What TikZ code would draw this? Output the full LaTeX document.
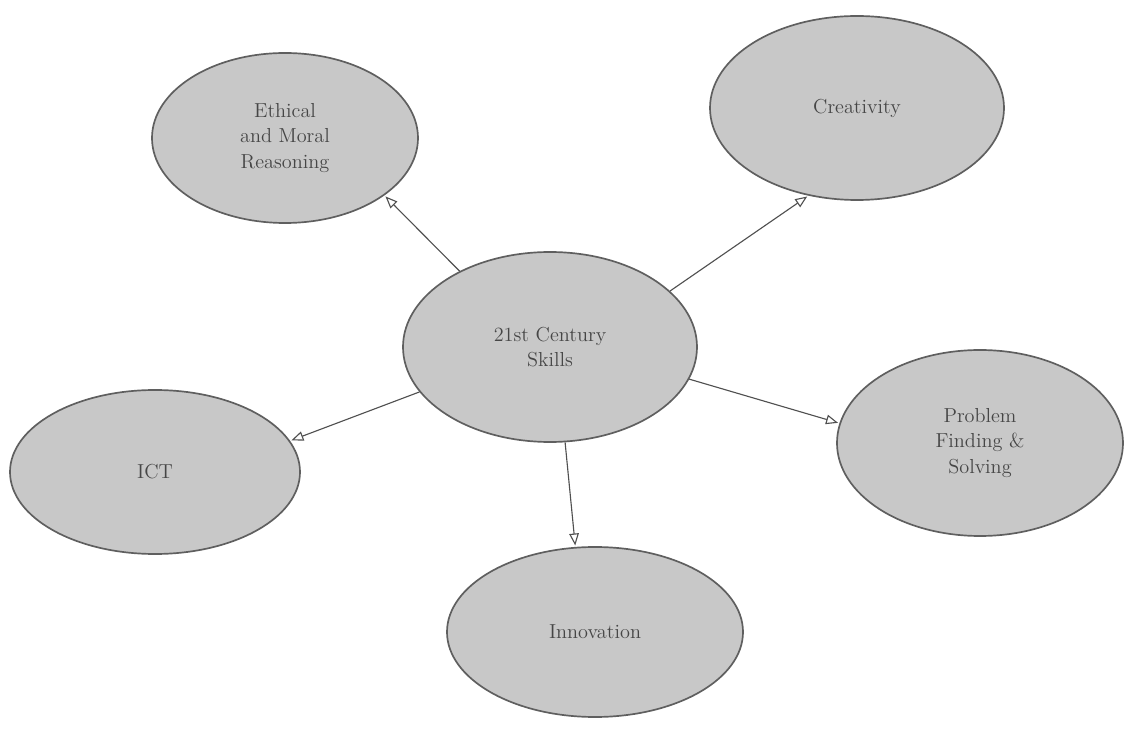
\documentclass[tikz,border=0pt]{standalone}
\usepackage{xcolor}
\usepackage{tikz}
\usetikzlibrary{shapes.geometric, arrows.meta, positioning}
\definecolor{bubblefill}{RGB}{200, 200, 200}
\definecolor{bubbleborder}{RGB}{95, 95, 95}
\definecolor{inktext}{RGB}{70, 70, 70}
\definecolor{inkline}{RGB}{80, 80, 80}
\tikzset{
  bubble/.style={
    ellipse, draw=bubbleborder, fill=bubblefill, line width=1.2pt,
    inner sep=0pt, align=center, text=inktext, font=\Large
  },
  spokeline/.style={
    draw=inkline, line width=0.8pt,
    -{Triangle[open, length=3mm, width=2.4mm]}, shorten >=1pt
  }
}

\begin{document}
\begin{tikzpicture}
  \useasboundingbox (0,0) rectangle (28.1,18.375);

  \node[bubble, minimum width=7.35cm, minimum height=4.75cm] (hub) at (13.75,9.7) {21st Century\\Skills};

  \node[bubble, minimum width=6.65cm, minimum height=4.25cm] (ethics) at (7.125,14.925) {Ethical\\and Moral\\Reasoning};
  \node[bubble, minimum width=7.35cm, minimum height=4.6cm] (creativity) at (21.425,15.675) {Creativity};
  \node[bubble, minimum width=7.15cm, minimum height=4.65cm] (problem) at (24.5,7.3) {Problem\\Finding \&\\Solving};
  \node[bubble, minimum width=7.25cm, minimum height=4.1cm] (ict) at (3.875,6.575) {ICT};
  \node[bubble, minimum width=7.4cm, minimum height=4.25cm] (innovation) at (14.875,2.575) {Innovation};

  \draw[spokeline] (hub.140) -- (ethics.330);
  \draw[spokeline] (hub.25) -- (creativity.241);
  \draw[spokeline] (hub.347) -- (problem.172);
  \draw[spokeline] (hub.199) -- (ict.13);
  \draw[spokeline] (hub.279) -- (innovation.103);
\end{tikzpicture}
\end{document}
